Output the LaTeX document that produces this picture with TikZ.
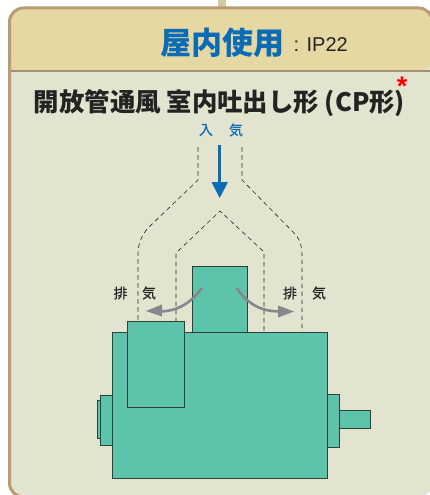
\documentclass[tikz,border=0pt]{standalone}
\usepackage{fontspec}
\setmainfont{Liberation Sans}
\newfontfamily\cjkheavy{Noto Sans CJK JP Black}
\newfontfamily\cjkmid[FakeBold=0.25]{Noto Sans CJK JP}
\definecolor{framec}{HTML}{B99B75}
\definecolor{headc}{HTML}{E5D8A3}
\definecolor{bodyc}{HTML}{E3E4CF}
\definecolor{motorc}{HTML}{5DC3AB}
\definecolor{bluec}{HTML}{0B6CB5}
\definecolor{greyc}{HTML}{85878A}
\definecolor{inkc}{HTML}{232323}
\definecolor{edgec}{HTML}{2F3F3A}
\definecolor{barc}{HTML}{D6C9A3}
\tikzset{
  part/.style={draw=edgec,fill=motorc,line width=0.9pt},
  duct/.style={draw=inkc,line width=0.6pt,dash pattern=on 4.5pt off 3.5pt},
  flow/.style={draw=greyc,line width=2.6pt},
  lab/.style={inner sep=0pt,font=\cjkmid\fontsize{14}{14}\selectfont},
}
\begin{document}
\begin{tikzpicture}[x=1pt,y=-1pt]
\useasboundingbox (0,0) rectangle (430,495);
\fill[white] (0,0) rectangle (430,495);
\fill[barc] (218,0) rectangle (226,7);
% panel
\fill[bodyc,rounded corners=14pt] (9.5,8) rectangle (432.5,497);
\fill[headc,rounded corners=14pt] (9.5,71) -- (9.5,8) -- (432.5,8) -- (432.5,71) [sharp corners] -- cycle;
\draw[draw=framec,line width=3pt,rounded corners=14pt] (9.5,60) -- (9.5,8) -- (432.5,8) -- (432.5,60);
\draw[draw=framec,line width=3pt,rounded corners=14pt] (9.5,60) -- (9.5,497) -- (60,497);
\draw[draw=framec!60!gray,line width=1.4pt] (11,71) -- (430,71);
% titles
\node[inner sep=0pt,text=bluec,font=\cjkheavy\fontsize{31}{31}\selectfont] (head) at (222,43) {屋内使用};
\node[inner sep=0pt,text=inkc,anchor=west,font=\fontsize{20}{20}\selectfont] (ip) at (293.5,44.5) {: IP22};
\node[inner sep=0pt,text=inkc,font=\cjkheavy\fontsize{25.4}{26}\selectfont] (title) at (219.5,103) {開放管通風 室内吐出し形 (CP形)};
\node[inner sep=0pt,text=red,font=\bfseries\fontsize{27}{27}\selectfont] (star) at (402,86.5) {*};
\node[lab,text=bluec] (in1) at (206,130) {入};
\node[lab,text=bluec] (in2) at (236,130) {気};
\node[lab,text=inkc] (ex1) at (120.5,293) {排};
\node[lab,text=inkc] (ex2) at (149,293) {気};
\node[lab,text=inkc] (ex3) at (290,293) {排};
\node[lab,text=inkc] (ex4) at (319,293) {気};
% ducts
\draw[duct] (198,147) -- (198,180) -- (148,228) .. controls (141,236) and (138,245) .. (138,254) -- (138,322);
\draw[duct] (242,147) -- (242,180) -- (296,235) .. controls (300,240) and (302,247) .. (302,254) -- (302,332);
\draw[duct] (176,322) -- (176,253) -- (220,211) -- (264,252) -- (264,332);
% motor
\draw[part] (97,400.5) rectangle (101,438);
\draw[part] (100.5,395) rectangle (112,445.5);
\draw[part] (327,394) rectangle (339,447);
\draw[part] (339,410) rectangle (370.5,428.5);
\draw[part] (192,266) rectangle (247.5,332.5);
\draw[part] (112,332.5) rectangle (327,478.5);
\draw[part] (127.5,321.5) rectangle (184,407.5);
% flow arrows
\draw[draw=bluec,line width=2.6pt] (219.7,145) -- (219.7,184);
\fill[bluec] (211.5,182) -- (228,182) -- (219.7,198) -- cycle;
\draw[flow] (201.7,288) .. controls (191,303) and (178,311) .. (160,311.5);
\fill[greyc] (162,304.5) -- (162,316.5) -- (146,311) -- cycle;
\draw[flow] (236.7,288) .. controls (247,303) and (259,311) .. (279,311.5);
\fill[greyc] (278,305.5) -- (278,317.5) -- (294,311.5) -- cycle;
\end{tikzpicture}
\end{document}
